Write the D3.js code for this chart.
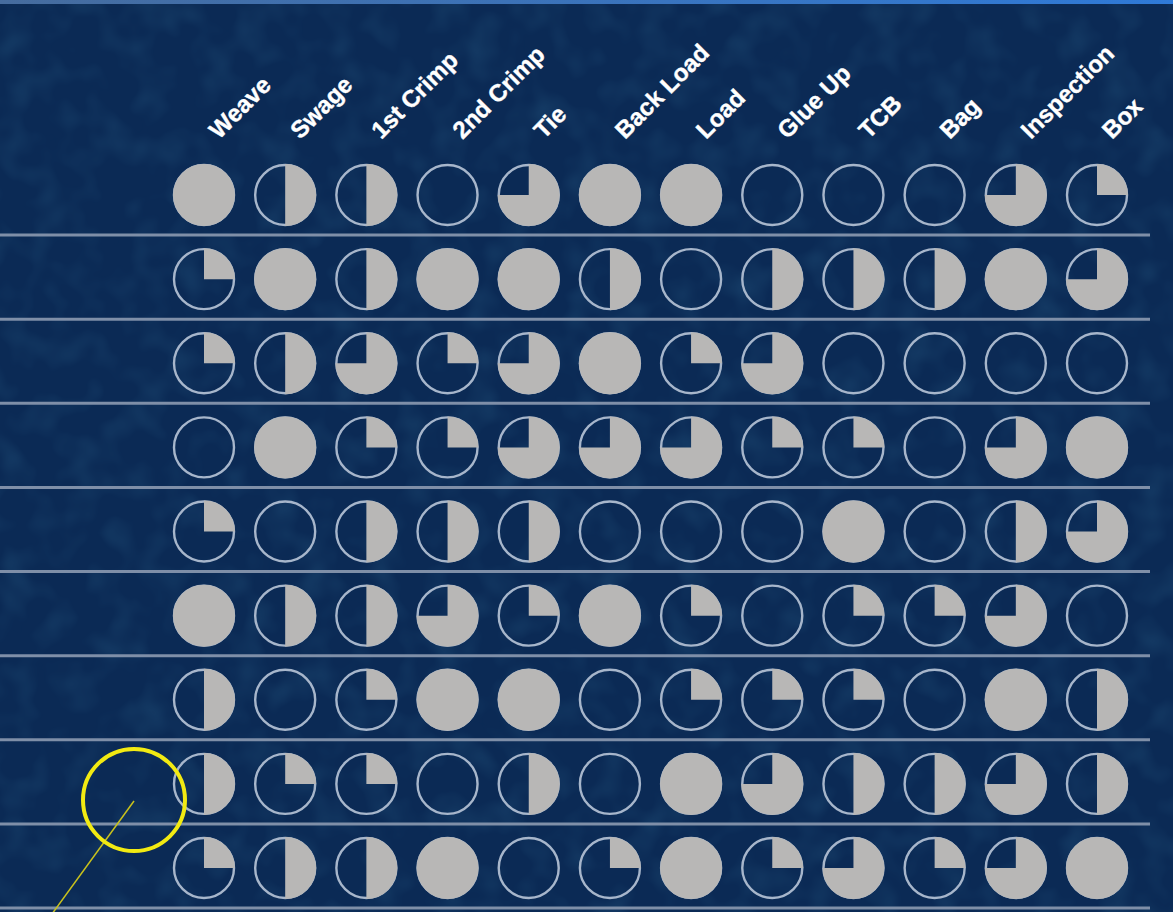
<!DOCTYPE html>
<html>
<head>
	<meta charset="utf-8">
	<title>Harvey balls</title>
	<script src="https://cdn.jsdelivr.net/npm/d3@7/dist/d3.min.js"></script>
	<style>
		*{
			padding: 0;
			margin: 0;
		}
		body{
			background: #0b2a55;
			overflow: hidden;
		}
		.label{
			font-family: "Liberation Sans", Arial, sans-serif;
			font-weight: bold;
			font-size: 24px;
			fill: #ffffff;
			stroke: #ffffff;
			stroke-width: 0.4;
		}
		.rowline{
			stroke: #7f8fa8;
			stroke-width: 3;
		}
		.ring{
			fill: none;
			stroke: #a7b6cb;
			stroke-width: 2.4;
		}
		.part{
			fill: #b8b7b6;
		}
	</style>
</head>
<body>
	<svg id="chart"></svg>
	<script type="text/javascript">
		var width = 1173,
			height = 912,
			r = 30;//半径

		//列名
		var steps = ["Weave", "Swage", "1st Crimp", "2nd Crimp", "Tie", "Back Load", "Load",
			"Glue Up", "TCB", "Bag", "Inspection", "Box"];
		//行（左边没有文字）
		var rows = ["r1", "r2", "r3", "r4", "r5", "r6", "r7", "r8", "r9"];
		//每行每列的完成度 0 / 0.25 / 0.5 / 0.75 / 1
		var scores = [
			[1, 0.5, 0.5, 0, 0.75, 1, 1, 0, 0, 0, 0.75, 0.25],
			[0.25, 1, 0.5, 1, 1, 0.5, 0, 0.5, 0.5, 0.5, 1, 0.75],
			[0.25, 0.5, 0.75, 0.25, 0.75, 1, 0.25, 0.75, 0, 0, 0, 0],
			[0, 1, 0.25, 0.25, 0.75, 0.75, 0.75, 0.25, 0.25, 0, 0.75, 1],
			[0.25, 0, 0.5, 0.5, 0.5, 0, 0, 0, 1, 0, 0.5, 0.75],
			[1, 0.5, 0.5, 0.75, 0.25, 1, 0.25, 0, 0.25, 0.25, 0.75, 0],
			[0.5, 0, 0.25, 1, 1, 0, 0.25, 0.25, 0.25, 0, 1, 0.5],
			[0.5, 0.25, 0.25, 0, 0.5, 0, 1, 0.75, 0.5, 0.5, 0.75, 0.5],
			[0.25, 0.5, 0.5, 1, 0, 0.25, 1, 0.25, 0.75, 0.25, 0.75, 1]
		];

		var xScale = d3.scalePoint().domain(steps).range([204, 1097]),
			yScale = d3.scalePoint().domain(rows).range([195, 868]),
			rowStep = yScale.step(),
			angle = d3.scaleLinear().domain([0, 1]).range([0, 2 * Math.PI]);

		var svg = d3.select("#chart")
			.attr("width", width)
			.attr("height", height);

		//背景 + 斑驳纹理
		var defs = svg.append("defs");
		var f = defs.append("filter").attr("id", "mottle")
			.attr("x", 0).attr("y", 0).attr("width", 1).attr("height", 1);
		f.append("feTurbulence")
			.attr("type", "fractalNoise")
			.attr("baseFrequency", 0.03)
			.attr("numOctaves", 2)
			.attr("seed", 3);
		f.append("feColorMatrix")
			.attr("type", "matrix")
			.attr("values", "0 0 0 0 0.02  0 0 0 0 0.1  0 0 0 0 0.22  0 0 0 1.8 -0.8");
		var g = defs.append("linearGradient").attr("id", "topband");
		g.append("stop").attr("offset", "0%").attr("stop-color", "#466c9e");
		g.append("stop").attr("offset", "100%").attr("stop-color", "#2f7ad8");

		svg.append("rect").attr("width", width).attr("height", height).attr("fill", "#0b2a55");
		svg.append("rect").attr("width", width).attr("height", height)
			.attr("filter", "url(#mottle)").attr("opacity", 0.4);
		svg.append("rect").attr("width", width).attr("height", 4).attr("fill", "url(#topband)");

		//分隔线
		svg.selectAll(".rowline")
			.data(rows)
			.enter().append("line")
			.attr("class", "rowline")
			.attr("x1", 0)
			.attr("x2", 1150)
			.attr("y1", function (d) { return yScale(d) + rowStep / 2 - 2; })
			.attr("y2", function (d) { return yScale(d) + rowStep / 2 - 2; });

		//列标签，从每列中心往右上斜着写
		svg.selectAll(".label")
			.data(steps)
			.enter().append("text")
			.attr("class", "label")
			.attr("transform", function (d) {
				return "translate(" + (xScale(d) + 15) + ",140) rotate(-45)";
			})
			.text(function (d) { return d; });

		//Harvey balls
		var arc = d3.arc().innerRadius(0).outerRadius(r + 1).startAngle(0);
		var cells = [];
		scores.forEach(function (row, i) {
			row.forEach(function (v, j) {
				cells.push({row: rows[i], step: steps[j], v: v});
			});
		});
		var ball = svg.selectAll(".ball")
			.data(cells)
			.enter().append("g")
			.attr("class", "ball")
			.attr("transform", function (d) {
				return "translate(" + xScale(d.step) + "," + yScale(d.row) + ")";
			});
		ball.append("circle")
			.attr("class", "ring")
			.attr("r", r);
		ball.filter(function (d) { return d.v > 0; })
			.append("path")
			.attr("class", "part")
			.attr("d", function (d) { return arc({endAngle: angle(d.v)}); });

		//黄色标注圈
		svg.append("line")
			.attr("x1", 134).attr("y1", 801)
			.attr("x2", 52).attr("y2", 914)
			.attr("stroke", "#c9c21c")
			.attr("stroke-width", 1.5);
		svg.append("circle")
			.attr("cx", 134).attr("cy", 800)
			.attr("r", 51)
			.attr("fill", "none")
			.attr("stroke", "#f2ea12")
			.attr("stroke-width", 4);
	</script>
</body>
</html>
